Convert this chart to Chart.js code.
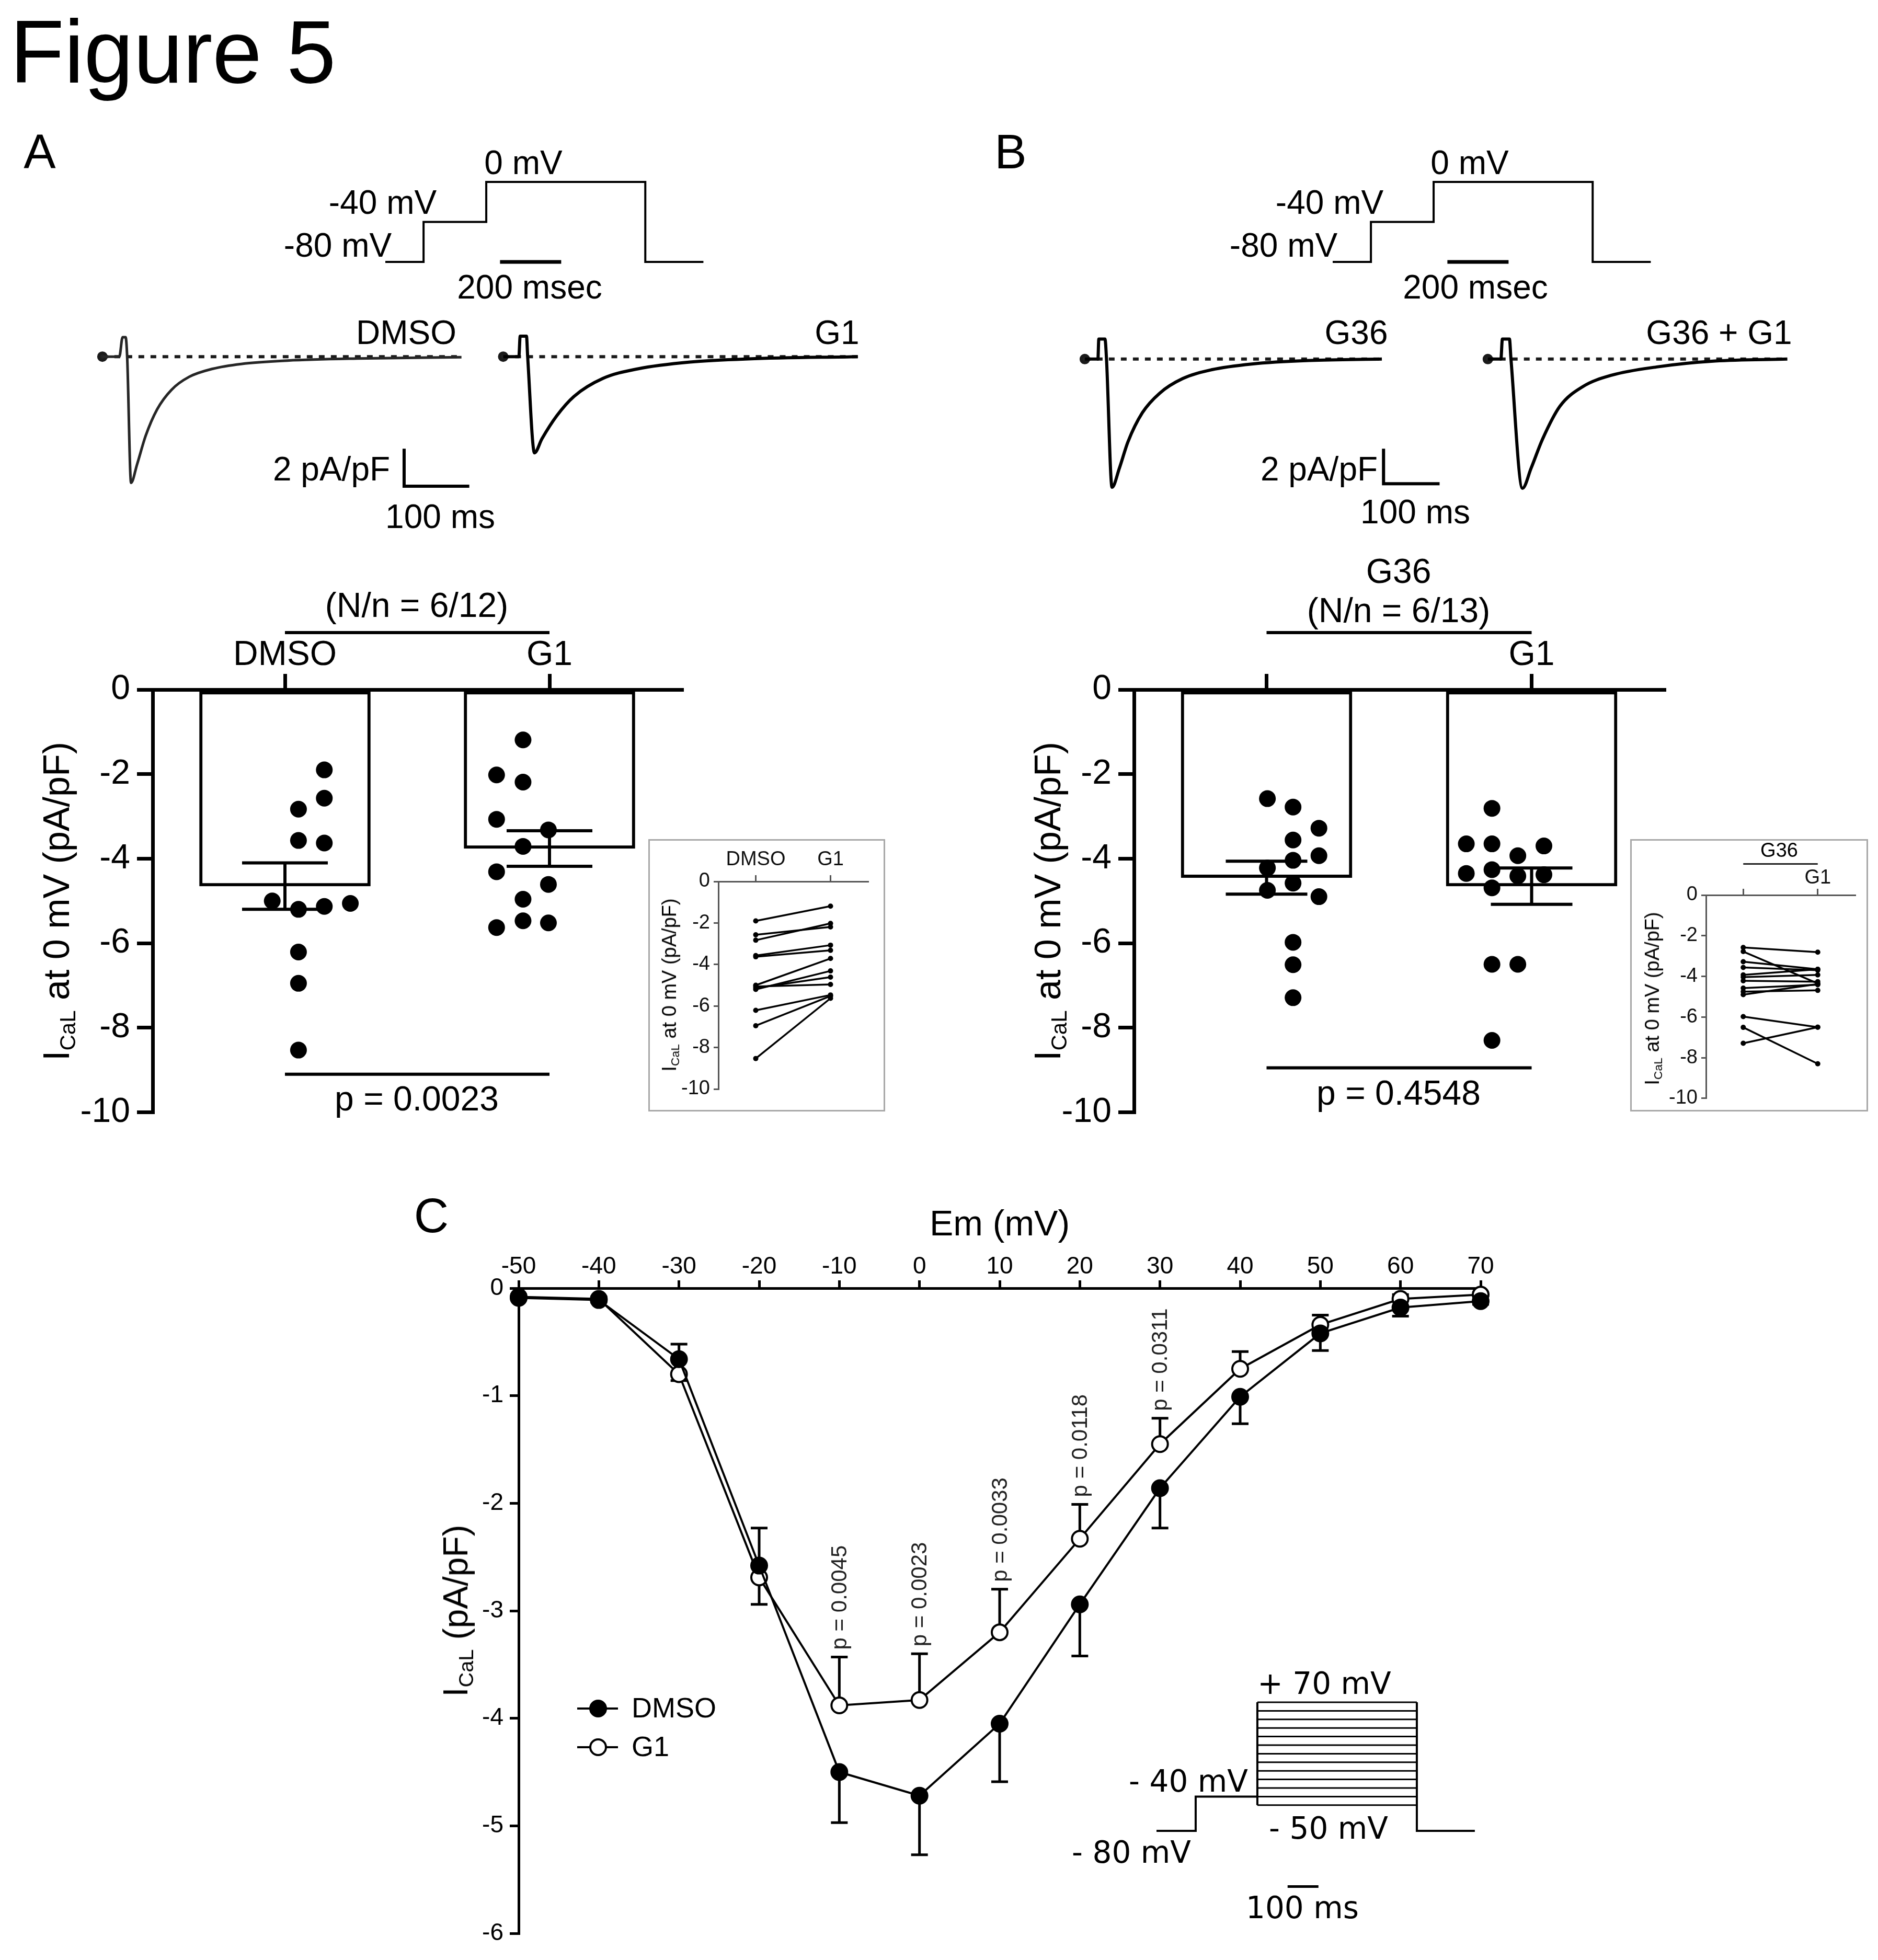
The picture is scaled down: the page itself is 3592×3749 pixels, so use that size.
<!DOCTYPE html>
<html>
<head>
<meta charset="utf-8">
<title>Figure 5</title>
<script src="https://cdn.jsdelivr.net/npm/chart.js"></script>
<style>
  html, body { margin:0; padding:0; background:#fff; }
  body { position:relative; width:3592px; height:3749px; overflow:hidden; font-family:'Liberation Sans', Arial, Helvetica, sans-serif; color:#000; }
  canvas { position:absolute; }
  .lbl { position:absolute; white-space:nowrap; line-height:1; }
  .sub { font-size:0.6em; position:relative; top:0.28em; }
  .box { position:absolute; box-sizing:border-box; border:3px solid #a8a8a8; background:#fff; }
</style>
</head>
<body>
<script>
// ================= DATA =================
// Voltage protocol for panels A and B (time in ms, potential in mV)
const protoTime = [0, 125, 125, 330, 330, 850, 850, 1040];
const protoVolt = [-80, -80, -40, -40, 0, 0, -80, -80];
const protoBarTime = [375, 575];           // 200 msec scale bar
const protoBarVolt = [-80, -80];

// Panel A representative traces (ms, pA/pF)
const trDmsoT = [0, 26, 31, 35.6, 38, 44, 53, 66.5, 84, 106, 133, 169, 213, 284, 391, 551];
const trDmsoI = [0, 0, 1.04, 1.04, 0, -6.73, -5.77, -4.21, -2.81, -1.77, -1.08, -0.65, -0.39, -0.21, -0.10, -0.03];
const trDmsoBaseT = [0, 551];
const trAG1T = [0, 24, 26, 35.7, 37.5, 48, 59.4, 82, 108.6, 153, 206.6, 286.6, 375.8, 544];
const trAG1I = [0, 0, 1.09, 1.09, 0, -5.13, -4.38, -3.16, -2.12, -1.16, -0.65, -0.29, -0.12, 0];
const trAG1BaseT = [0, 549];
const scaleAT = [463, 463, 563];           // 2 pA/pF, 100 ms
const scaleAI = [-4.91, -6.91, -6.91];

// Panel B representative traces (ms, pA/pF)
const trG36T = [0, 23.4, 25, 36, 38.7, 48.6, 61.7, 77, 102.7, 133.8, 174.8, 226, 298, 402, 530];
const trG36I = [0, 0, 1.14, 1.14, 0, -7.31, -6.22, -4.72, -3.06, -1.94, -1.11, -0.61, -0.28, -0.08, 0];
const trG36BaseT = [0, 530];
const trG36G1T = [0, 23.4, 26, 38.7, 41.4, 62, 77.5, 98, 129, 170, 221.6, 304, 407, 536];
const trG36G1I = [0, 0, 1.14, 1.14, 0, -7.37, -6.22, -4.56, -2.69, -1.57, -0.92, -0.44, -0.11, 0];
const trG36G1BaseT = [0, 536];
const scaleBT = [533, 533, 633];
const scaleBI = [-5.11, -7.11, -7.11];
const zeroPair = [0, 0];

// Panel A summary (I_CaL at 0 mV, pA/pF) - cells paired DMSO -> G1
const catsA = ['DMSO', 'G1'];
const meanA = [-4.65, -3.76];
const semA = [0.55, 0.42];
const dmsoA = [-1.90, -2.57, -2.83, -3.57, -3.63, -5.00, -5.20, -5.13, -5.06, -6.21, -6.95, -8.53];
const dmsoAJit = [0.061, 0.061, -0.061, -0.061, 0.061, -0.185, -0.061, 0.061, 0.184, -0.061, -0.061, -0.061];
const g1A = [-1.19, -2.19, -2.02, -3.07, -3.32, -3.71, -4.31, -4.61, -4.96, -5.47, -5.52, -5.63];
const g1AJit = [0, 0, -0.125, -0.125, 0.12, 0, -0.125, 0.12, 0, 0, 0.12, -0.125];
const pLineA = -9.1;

// Panel B summary - cells paired G36 -> G36 + G1
const catsB = ['G36', 'G1'];
const meanB = [-4.45, -4.65];
const semB = [0.39, 0.43];
const g36B = [-2.58, -2.78, -3.28, -3.56, -3.93, -4.04, -4.22, -4.58, -4.75, -4.90, -5.98, -6.51, -7.29];
const g36BJit = [-0.121, 0, 0.122, 0, 0.122, 0, -0.121, 0, -0.121, 0.122, 0, 0, 0];
const g1B = [-2.81, -4.35, -3.65, -3.70, -3.65, -3.93, -4.26, -4.41, -4.69, -4.38, -6.50, -8.30, -6.50];
const g1BJit = [-0.062, -0.183, -0.183, 0.183, -0.062, 0.060, -0.062, 0.060, -0.062, 0.183, -0.062, -0.062, 0.060];
const pLineB = -8.95;

// Panel C current-voltage relation
const emVals = [-50, -40, -30, -20, -10, 0, 10, 20, 30, 40, 50, 60, 70];
const ivDmso = [-0.09, -0.11, -0.66, -2.58, -4.50, -4.72, -4.05, -2.94, -1.86, -1.01, -0.42, -0.18, -0.12];
const ivDmsoSem = [0.02, 0.02, 0.14, 0.35, 0.47, 0.55, 0.54, 0.48, 0.37, 0.25, 0.16, 0.08, 0.03];
const ivG1 = [-0.08, -0.10, -0.80, -2.69, -3.88, -3.83, -3.20, -2.33, -1.45, -0.75, -0.34, -0.10, -0.06];
const ivG1Sem = [0.02, 0.02, 0.06, 0.25, 0.45, 0.43, 0.40, 0.32, 0.24, 0.16, 0.09, 0.04, 0.02];
const pVolts = [-10, 0, 10, 20, 30];
const pLabels = ['p = 0.0045', 'p = 0.0023', 'p = 0.0033', 'p = 0.0118', 'p = 0.0311'];

// Panel C step protocol (ms, mV)
const stepTime = [0, 127, 127, 327];
const stepVolt = [-80, -80, -40, -40];
const boxTime = [327, 844];
const boxEndTime = [844, 844, 1032];
const boxEndVolt = [70, -80, -80];
const stepLevels = [70, 60, 50, 40, 30, 20, 10, 0, -10, -20, -30, -40, -50];
const scaleCT = [425, 525];                 // 100 ms scale bar
const scaleCV = [-145, -145];

// ================= SETUP =================
Chart.defaults.font.family = "'Liberation Sans', Arial, Helvetica, sans-serif";
Chart.defaults.color = '#000';
Chart.defaults.animation = false;
Chart.defaults.responsive = false;
Chart.defaults.maintainAspectRatio = false;
Chart.defaults.devicePixelRatio = 1;
Chart.defaults.plugins.legend.display = false;
Chart.defaults.plugins.tooltip.enabled = false;
Chart.defaults.events = [];

function makeCanvas(L, T, W, H, parent) {
  const c = document.createElement('canvas');
  c.width = W; c.height = H;
  c.style.left = L + 'px'; c.style.top = T + 'px';
  c.style.width = W + 'px'; c.style.height = H + 'px';
  (parent || document.body).appendChild(c);
  return c;
}
const xy = (xs, ys) => xs.map((x, i) => ({x: x, y: ys[i]}));

function drawing(region, xmap, ymap, datasets) {
  const [L, T, W, H] = region;
  const c = makeCanvas(L, T, W, H);
  return new Chart(c, {
    type: 'line',
    data: {datasets: datasets},
    options: {
      layout: {padding: 0},
      scales: {
        x: {type: 'linear', display: false, min: xmap.v + (L - xmap.p) / xmap.k, max: xmap.v + (L + W - xmap.p) / xmap.k},
        y: {type: 'linear', display: false, max: ymap.v + (ymap.p - T) / ymap.k, min: ymap.v - (T + H - ymap.p) / ymap.k}
      }
    }
  });
}
function lineDs(data, extra) {
  return Object.assign({data: data, borderColor: '#000', backgroundColor: '#000', borderWidth: 4,
    pointRadius: 0, tension: 0, fill: false, clip: false}, extra || {});
}

// ----- Panel A / B voltage protocols -----
const pyAB = {p: 501, v: -80, k: 1.9125};
drawing([690, 320, 720, 210], {p: 737, v: 0, k: 0.585}, pyAB, [
  lineDs(xy(protoTime, protoVolt)),
  lineDs(xy(protoBarTime, protoBarVolt), {borderWidth: 7})
]);
drawing([2500, 320, 720, 210], {p: 2549, v: 0, k: 0.585}, pyAB, [
  lineDs(xy(protoTime, protoVolt)),
  lineDs(xy(protoBarTime, protoBarVolt), {borderWidth: 7})
]);

// ----- Panel A traces -----
const tyA = {p: 675, v: 0, k: 38.5};
const dashOpts = {borderDash: [11, 12], borderWidth: 6, borderColor: '#1a1a1a', pointRadius: [7, 0], pointBackgroundColor: '#222'};
drawing([150, 590, 770, 380], {p: 184, v: 0, k: 1.29}, tyA, [
  lineDs(xy(trDmsoT, trDmsoI), {borderColor: '#262626', borderWidth: 5, cubicInterpolationMode: 'monotone'}),
  lineDs(xy(trDmsoBaseT, zeroPair), dashOpts),
  lineDs(xy(scaleAT, scaleAI), {borderWidth: 6})
]);
drawing([920, 590, 780, 380], {p: 950.5, v: 0, k: 1.29}, tyA, [
  lineDs(xy(trAG1T, trAG1I), {borderWidth: 6, cubicInterpolationMode: 'monotone'}),
  lineDs(xy(trAG1BaseT, zeroPair), dashOpts)
]);

// ----- Panel B traces -----
const tyB = {p: 680, v: 0, k: 36};
drawing([2030, 590, 760, 380], {p: 2063, v: 0, k: 1.11}, tyB, [
  lineDs(xy(trG36T, trG36I), {borderWidth: 6, cubicInterpolationMode: 'monotone'}),
  lineDs(xy(trG36BaseT, zeroPair), dashOpts),
  lineDs(xy(scaleBT, scaleBI), {borderWidth: 6})
]);
drawing([2800, 590, 700, 380], {p: 2834, v: 0, k: 1.11}, tyB, [
  lineDs(xy(trG36G1T, trG36G1I), {borderWidth: 6, cubicInterpolationMode: 'monotone'}),
  lineDs(xy(trG36G1BaseT, zeroPair), dashOpts)
]);

// ----- Bar + dot panels -----
function barPanel(o) {
  const c = makeCanvas(o.L, o.T, o.W, o.H);
  const dots = [];
  o.groups.forEach((g, gi) => g.vals.forEach((v, i) => dots.push({x: gi + 1 + g.jit[i], y: v})));
  const plug = {
    id: 'errAndBrackets',
    afterDatasetsDraw(chart) {
      const ctx = chart.ctx, xs = chart.scales.x, ys = chart.scales.y;
      ctx.save();
      ctx.strokeStyle = '#000'; ctx.lineWidth = 6;
      o.means.forEach((m, i) => {
        const x = xs.getPixelForValue(i);
        const y1 = ys.getPixelForValue(m + o.sems[i]);
        const y2 = ys.getPixelForValue(m - o.sems[i]);
        ctx.beginPath();
        ctx.moveTo(x, y1); ctx.lineTo(x, y2);
        ctx.moveTo(x - o.cap, y1); ctx.lineTo(x + o.cap, y1);
        ctx.moveTo(x - o.cap, y2); ctx.lineTo(x + o.cap, y2);
        ctx.stroke();
      });
      const xa = xs.getPixelForValue(0), xb = xs.getPixelForValue(1);
      const yb = chart.chartArea.top - o.bracketGap, yp = ys.getPixelForValue(o.pLine);
      ctx.beginPath();
      ctx.moveTo(xa, yb); ctx.lineTo(xb, yb);
      ctx.moveTo(xa, yp); ctx.lineTo(xb, yp);
      ctx.stroke();
      ctx.restore();
    }
  };
  return new Chart(c, {
    type: 'bar',
    data: {
      labels: o.cats,
      datasets: [
        {type: 'bar', data: o.means, backgroundColor: '#fff', borderColor: '#000', borderWidth: 6,
         borderSkipped: false, barThickness: 327, grouped: false, order: 2, xAxisID: 'x', yAxisID: 'y'},
        {type: 'scatter', data: dots, backgroundColor: '#000', borderColor: '#000', borderWidth: 0,
         pointRadius: 16, grouped: false, order: 1, xAxisID: 'xs', yAxisID: 'y', clip: false}
      ]
    },
    options: {
      layout: {padding: {left: 0, top: 0, right: o.padR, bottom: o.padB}},
      scales: {
        x: {type: 'category', position: 'top', offset: true,
            grid: {offset: false, drawOnChartArea: false, drawTicks: true, tickLength: 30, lineWidth: 7, tickWidth: 7, color: '#000', tickColor: '#000'},
            border: {display: true, color: '#000', width: 7},
            ticks: {font: {size: 66}, color: '#000', padding: -4, maxRotation: 0, autoSkip: false,
                    callback: function (v, i) { return (o.hideFirst && i === 0) ? '' : this.getLabelForValue(v); }},
            afterFit: s => { s.height = o.axisH; }},
        xs: {type: 'linear', display: false, min: 0.5, max: 2.5},
        y: {type: 'linear', position: 'left', min: -10, max: 0,
            ticks: {stepSize: 2, font: {size: 66}, color: '#000', padding: 13},
            grid: {drawOnChartArea: false, drawTicks: true, tickLength: 30, lineWidth: 7, tickWidth: 7, color: '#000', tickColor: '#000'},
            border: {display: true, color: '#000', width: 7},
            afterFit: s => { s.width = o.axisW; }}
      }
    },
    plugins: [plug]
  });
}

barPanel({L: 0, T: 1100, W: 1320, H: 1080, axisW: 292, axisH: 219, padR: 15, padB: 51,
  cats: catsA, means: meanA, sems: semA, cap: 82, bracketGap: 109, pLine: pLineA, hideFirst: false,
  groups: [{vals: dmsoA, jit: dmsoAJit}, {vals: g1A, jit: g1AJit}]});
barPanel({L: 1880, T: 1100, W: 1320, H: 1080, axisW: 289, axisH: 219, padR: 17, padB: 50,
  cats: catsB, means: meanB, sems: semB, cap: 78, bracketGap: 109, pLine: pLineB, hideFirst: true,
  groups: [{vals: g36B, jit: g36BJit}, {vals: g1B, jit: g1BJit}]});

// ----- Paired insets -----
function insetPanel(o) {
  const box = document.createElement('div');
  box.className = 'box';
  Object.assign(box.style, {left: o.L + 'px', top: o.T + 'px', width: o.W + 'px', height: o.H + 'px'});
  document.body.appendChild(box);
  const c = makeCanvas(0, 0, o.W - 6, o.H - 6, box);
  const datasets = o.a.map((v, i) => ({data: [v, o.b[i]], borderColor: '#000', backgroundColor: '#000',
    borderWidth: 3.5, pointRadius: 5, pointBorderWidth: 0, tension: 0, clip: false}));
  const plug = {
    id: 'insetBracket',
    afterDraw(chart) {
      if (!o.bracketGap) return;
      const ctx = chart.ctx, xs = chart.scales.x;
      const y = chart.chartArea.top - o.bracketGap;
      ctx.save(); ctx.strokeStyle = '#222'; ctx.lineWidth = 3;
      ctx.beginPath(); ctx.moveTo(xs.getPixelForValue(0), y); ctx.lineTo(xs.getPixelForValue(1), y); ctx.stroke();
      ctx.restore();
    }
  };
  return new Chart(c, {
    type: 'line',
    data: {labels: o.cats, datasets: datasets},
    options: {
      layout: {padding: {left: 0, top: 0, right: o.padR, bottom: o.padB}},
      scales: {
        x: {type: 'category', position: 'top', offset: true,
            grid: {offset: false, drawOnChartArea: false, tickLength: 12, lineWidth: 3, tickWidth: 3, color: '#555', tickColor: '#555'},
            border: {color: '#555', width: 3},
            ticks: {font: {size: 38}, color: '#111', padding: o.tickPad, maxRotation: 0, autoSkip: false,
                    callback: function (v, i) { return (o.hideFirst && i === 0) ? '' : this.getLabelForValue(v); }},
            afterFit: s => { s.height = o.axisH; }},
        y: {min: -10, max: 0,
            ticks: {stepSize: 2, font: {size: 38, lineHeight: 0.8}, color: '#111', padding: 7},
            grid: {drawOnChartArea: false, tickLength: 9, lineWidth: 3, tickWidth: 3, color: '#555', tickColor: '#555'},
            border: {color: '#555', width: 3},
            afterFit: s => { s.width = o.axisW; }}
      }
    },
    plugins: [plug]
  });
}
insetPanel({L: 1240, T: 1605, W: 453, H: 521, axisW: 131, axisH: 78, padR: 30, padB: 40, tickPad: 7,
  cats: catsA, a: dmsoA, b: g1A, hideFirst: false, bracketGap: 0});
insetPanel({L: 3118, T: 1605, W: 455, H: 521, axisW: 142, axisH: 104, padR: 22, padB: 16, tickPad: -2,
  cats: catsB, a: g36B, b: g1B, hideFirst: true, bracketGap: 59.5});

// ----- Panel C: I-V curve -----
(function ivPanel() {
  const c = makeCanvas(780, 2260, 2100, 1489);
  const ends = emVals.map((v, i) => {
    const dUp = ivDmso[i] >= ivG1[i];
    return {
      d: dUp ? ivDmso[i] + ivDmsoSem[i] : ivDmso[i] - ivDmsoSem[i],
      g: dUp ? ivG1[i] - ivG1Sem[i] : ivG1[i] + ivG1Sem[i]
    };
  });
  const plug = {
    id: 'ivExtras',
    beforeDatasetsDraw(chart) {
      const ctx = chart.ctx, xs = chart.scales.x, ys = chart.scales.y;
      ctx.save(); ctx.strokeStyle = '#000'; ctx.lineWidth = 5;
      emVals.forEach((v, i) => {
        const x = xs.getPixelForValue(v);
        [[ivDmso[i], ends[i].d], [ivG1[i], ends[i].g]].forEach(([m, e]) => {
          const y0 = ys.getPixelForValue(m), y1 = ys.getPixelForValue(e);
          ctx.beginPath();
          ctx.moveTo(x, y0); ctx.lineTo(x, y1);
          ctx.moveTo(x - 16, y1); ctx.lineTo(x + 16, y1);
          ctx.stroke();
        });
      });
      ctx.restore();
    },
    afterDatasetsDraw(chart) {
      const ctx = chart.ctx, xs = chart.scales.x, ys = chart.scales.y;
      ctx.save();
      ctx.fillStyle = '#222';
      ctx.font = "42px 'Liberation Sans', Arial, sans-serif";
      ctx.textAlign = 'left'; ctx.textBaseline = 'middle';
      pVolts.forEach((v, k) => {
        const i = emVals.indexOf(v);
        const top = Math.max(ends[i].d, ends[i].g, ivDmso[i], ivG1[i]);
        const x = xs.getPixelForValue(v), y = ys.getPixelForValue(top) - 14;
        ctx.save(); ctx.translate(x + 2, y); ctx.rotate(-Math.PI / 2);
        ctx.fillText(pLabels[k], 0, 0);
        ctx.restore();
      });
      ctx.restore();
    },
    afterDraw(chart) {
      const ctx = chart.ctx, a = chart.chartArea;
      const lx = a.left + 152, ly = a.top + 804;
      ctx.save();
      chart.data.datasets.forEach((ds, k) => {
        const y = ly + k * 74;
        ctx.strokeStyle = ds.borderColor; ctx.lineWidth = ds.borderWidth;
        ctx.beginPath(); ctx.moveTo(lx - 40, y); ctx.lineTo(lx + 38, y); ctx.stroke();
        ctx.beginPath(); ctx.arc(lx, y, ds.pointRadius, 0, Math.PI * 2);
        ctx.fillStyle = ds.pointBackgroundColor; ctx.fill();
        ctx.lineWidth = ds.pointBorderWidth; ctx.strokeStyle = ds.pointBorderColor; ctx.stroke();
        ctx.fillStyle = '#000'; ctx.font = "54px 'Liberation Sans', Arial, sans-serif";
        ctx.textAlign = 'left'; ctx.textBaseline = 'middle';
        ctx.fillText(ds.label, lx + 64, y + 2);
      });
      ctx.restore();
    }
  };
  new Chart(c, {
    type: 'line',
    data: {datasets: [
      {label: 'DMSO', data: xy(emVals, ivDmso), borderColor: '#000', borderWidth: 4, pointRadius: 16,
       pointBackgroundColor: '#000', pointBorderColor: '#000', pointBorderWidth: 2, tension: 0, clip: false},
      {label: 'G1', data: xy(emVals, ivG1), borderColor: '#000', borderWidth: 4, pointRadius: 15,
       pointBackgroundColor: '#fff', pointBorderColor: '#000', pointBorderWidth: 4, tension: 0, clip: false}
    ]},
    options: {
      layout: {padding: {left: 0, top: 0, right: 48, bottom: 51}},
      scales: {
        x: {type: 'linear', position: 'top', min: -50, max: 70,
            ticks: {stepSize: 10, font: {size: 46}, color: '#000', padding: -2, maxRotation: 0, autoSkip: false},
            grid: {drawOnChartArea: false, tickLength: 15, lineWidth: 5, tickWidth: 5, color: '#000', tickColor: '#000'},
            border: {color: '#000', width: 5},
            title: {display: true, text: 'Em (mV)', font: {size: 68}, color: '#000', padding: {top: 43, bottom: 0}},
            afterFit: s => { s.height = 204; }},
        y: {type: 'linear', min: -6, max: 0,
            ticks: {stepSize: 1, font: {size: 46}, color: '#000', padding: 12},
            grid: {drawOnChartArea: false, tickLength: 17, lineWidth: 5, tickWidth: 5, color: '#000', tickColor: '#000'},
            border: {color: '#000', width: 5},
            afterFit: s => { s.width = 212; }}
      }
    },
    plugins: [plug]
  });
})();

// ----- Panel C protocol inset -----
(function () {
  const ds = [
    lineDs(xy(stepTime, stepVolt)),
    lineDs(xy([boxTime[0], boxTime[0]], [-50, 70])),
    lineDs(xy(boxEndTime, boxEndVolt)),
    lineDs(xy(scaleCT, scaleCV), {borderWidth: 5})
  ];
  stepLevels.forEach(v => ds.push(lineDs(xy(boxTime, [v, v]), {borderWidth: 3})));
  drawing([2180, 3220, 680, 420], {p: 2212, v: 0, k: 0.59}, {p: 3502, v: -80, k: 1.64}, ds);
})();

// ================= TEXT =================
function addText(html, x, y, size, opts) {
  opts = opts || {};
  const d = document.createElement('div');
  d.className = 'lbl';
  d.innerHTML = html;
  d.style.left = x + 'px'; d.style.top = y + 'px'; d.style.fontSize = size + 'px';
  if (opts.font) d.style.fontFamily = opts.font;
  if (opts.color) d.style.color = opts.color;
  const tx = opts.anchor === 'l' ? '0' : (opts.anchor === 'r' ? '-100%' : '-50%');
  d.style.transform = 'translate(' + tx + ',-50%)' + (opts.rot ? ' rotate(' + opts.rot + 'deg)' : '');
  document.body.appendChild(d);
}
const yTitle = 'I<span class="sub">CaL</span> at 0 mV (pA/pF)';

addText('Figure 5', 19, 99, 170, {anchor: 'l'});
addText('A', 76, 290, 92);
addText('B', 1933, 290, 92);
addText('C', 825, 2325, 92);

// protocol labels
addText('0 mV', 1001, 311, 64);
addText('-40 mV', 732, 387, 64);
addText('-80 mV', 646, 469, 64);
addText('200 msec', 1013, 549, 64);
addText('0 mV', 2811, 311, 64);
addText('-40 mV', 2543, 387, 64);
addText('-80 mV', 2455, 469, 64);
addText('200 msec', 2822, 549, 64);

// trace labels
addText('DMSO', 777, 636, 64);
addText('G1', 1601, 636, 64);
addText('2 pA/pF', 634, 897, 64);
addText('100 ms', 842, 988, 64);
addText('G36', 2594, 636, 64);
addText('G36 + G1', 3288, 636, 64);
addText('2 pA/pF', 2523, 897, 64);
addText('100 ms', 2707, 979, 64);

// bar panel annotations
addText('(N/n = 6/12)', 797, 1157, 66);
addText('p = 0.0023', 797, 2101, 66);
addText(yTitle, 108, 1724, 70, {rot: -90});
addText('G36', 2675, 1092, 66);
addText('(N/n = 6/13)', 2675, 1167, 66);
addText('p = 0.4548', 2675, 2090, 66);
addText(yTitle, 2004, 1724, 70, {rot: -90});

// inset annotations
addText(yTitle, 1280, 1884, 38, {rot: -90});
addText(yTitle, 3160, 1910, 38, {rot: -90});
addText('G36', 3403, 1626, 38);

// panel C annotations
addText('I<span class="sub">CaL</span> (pA/pF)', 871, 3081, 66, {rot: -90});
const dv = "'DejaVu Sans', sans-serif";
addText('+ 70 mV', 2533, 3220, 58, {font: dv});
addText('- 40 mV', 2273, 3407, 58, {font: dv});
addText('- 50 mV', 2541, 3497, 58, {font: dv});
addText('- 80 mV', 2164, 3543, 58, {font: dv});
addText('100 ms', 2491, 3649, 58, {font: dv});
</script>
</body>
</html>
